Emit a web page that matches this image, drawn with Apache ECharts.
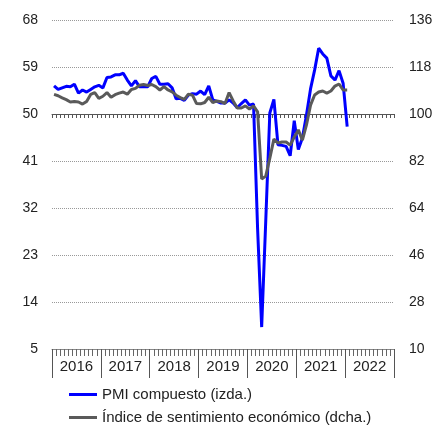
<!DOCTYPE html>
<html>
<head>
<meta charset="utf-8">
<script src="https://cdn.jsdelivr.net/npm/echarts@6/dist/echarts.min.js"></script>
<style>
  html, body { margin: 0; padding: 0; background: #fff; overflow: hidden; }
  #chart { width: 434px; height: 429px; }
</style>
</head>
<body>
<div id="chart"></div>
<script>
const years = ["2016", "2017", "2018", "2019", "2020", "2021", "2022"];
const monthNames = ["01", "02", "03", "04", "05", "06", "07", "08", "09", "10", "11", "12"];

// PMI compuesto, ene-2016 .. ene-2022 (eje izquierdo)
const pmi = [
  55.4, 54.7, 55.0, 55.3, 55.2, 55.7, 54.0, 54.6, 54.2, 54.7, 55.2, 55.5,
  55.0, 57.0, 57.1, 57.5, 57.5, 57.8, 56.5, 55.4, 56.4, 55.2, 55.2, 55.2,
  56.8, 57.2, 55.7, 55.7, 55.8, 55.0, 52.9, 53.0, 52.6, 53.6, 53.9, 53.8,
  54.4, 53.7, 55.4, 52.7, 52.4, 52.1, 52.1, 52.7, 52.1, 51.2, 52.0, 52.7,
  51.7, 51.9, 28.0, 9.2, 29.5, 50.2, 52.8, 44.1, 44.0, 43.8, 42.0, 48.7,
  43.2, 45.4, 49.8, 54.8, 58.4, 62.6, 61.5, 60.7, 57.3, 56.5, 58.3, 55.9,
  47.6
];

// Índice de sentimiento económico (eje derecho)
const esi = [
  107.5, 107.0, 106.2, 105.5, 104.6, 104.8, 104.6, 103.8, 104.8, 107.5, 108.2, 106.0,
  106.8, 108.2, 106.4, 107.4, 108.0, 108.4, 107.6, 109.4, 109.8, 111.0, 111.3, 110.9,
  111.3, 110.5, 109.2, 110.5, 109.2, 108.5, 107.2, 106.3, 105.6, 107.6, 107.2, 104.0,
  103.9, 104.4, 106.4, 104.4, 105.0, 104.7, 104.0, 108.2, 105.0, 102.3, 102.3, 103.1,
  101.9, 103.1, 100.8, 75.1, 76.2, 83.1, 90.4, 88.9, 89.3, 89.3, 88.1, 91.2,
  93.9, 90.0, 95.8, 103.4, 107.3, 108.4, 108.8, 108.0, 108.8, 110.7, 111.5, 109.2,
  109.2
];

const months = [];
years.forEach(function (y) {
  monthNames.forEach(function (m) { months.push(y + "-" + m); });
});

const pmiName = "PMI compuesto (izda.)";
const esiName = "Índice de sentimiento económico (dcha.)";
const font = "'Liberation Sans', Arial, sans-serif";
const chart = echarts.init(document.getElementById("chart"), null, { width: 434, height: 429 });

function legendFor(name, top) {
  return {
    left: 64,
    top: top,
    itemWidth: 28,
    itemHeight: 3,
    icon: "rect",
    textStyle: { fontSize: 15, color: "#222", fontFamily: font },
    data: [name]
  };
}

const option = {
  animation: false,
  textStyle: { fontFamily: font },
  grid: [
    { left: 52, right: 40, top: 20, bottom: 80, outerBoundsMode: "none" },
    { left: 52, right: 40, top: 20, height: 94, outerBoundsMode: "none" }
  ],
  legend: [legendFor(pmiName, 382), legendFor(esiName, 405)],
  xAxis: [
    {
      type: "category",
      gridIndex: 0,
      data: months,
      position: "bottom",
      boundaryGap: true,
      axisLine: { show: true, lineStyle: { color: "#888", width: 1 } },
      axisTick: { show: true, interval: 0, length: 7, lineStyle: { color: "#666" } },
      axisLabel: { show: false },
      splitLine: { show: false }
    },
    {
      type: "category",
      gridIndex: 0,
      data: years,
      position: "bottom",
      boundaryGap: true,
      axisLine: { show: false },
      axisTick: { show: true, interval: 0, length: 29, lineStyle: { color: "#555", width: 1 } },
      axisLabel: { show: true, interval: 0, margin: 10, fontSize: 15, color: "#222", fontFamily: font },
      splitLine: { show: false }
    },
    {
      type: "category",
      gridIndex: 1,
      data: months,
      position: "bottom",
      boundaryGap: true,
      axisLine: { show: true, lineStyle: { color: "#555", width: 1 } },
      axisTick: { show: true, interval: 0, length: 4, lineStyle: { color: "#555" } },
      axisLabel: { show: false },
      splitLine: { show: false }
    }
  ],
  yAxis: [
    {
      type: "value",
      gridIndex: 0,
      position: "left",
      min: 5,
      max: 68,
      interval: 9,
      axisLine: { show: false },
      axisTick: { show: false },
      axisLabel: { margin: 14, fontSize: 14, color: "#222", fontFamily: font },
      splitLine: { show: true, lineStyle: { type: "dotted", color: "#999", width: 1 } }
    },
    {
      type: "value",
      gridIndex: 0,
      position: "right",
      min: 10,
      max: 136,
      interval: 18,
      axisLine: { show: false },
      axisTick: { show: false },
      axisLabel: { margin: 15, fontSize: 14, color: "#222", fontFamily: font },
      splitLine: { show: false }
    },
    {
      type: "value",
      gridIndex: 1,
      show: false
    }
  ],
  series: [
    {
      name: pmiName,
      type: "line",
      xAxisIndex: 0,
      yAxisIndex: 0,
      data: pmi,
      showSymbol: false,
      color: "#0000ff",
      lineStyle: { color: "#0000ff", width: 3 },
      z: 3
    },
    {
      name: esiName,
      type: "line",
      xAxisIndex: 0,
      yAxisIndex: 1,
      data: esi,
      showSymbol: false,
      color: "#5a5a5a",
      lineStyle: { color: "#5a5a5a", width: 3 },
      z: 4
    }
  ]
};

chart.setOption(option);
</script>
</body>
</html>
